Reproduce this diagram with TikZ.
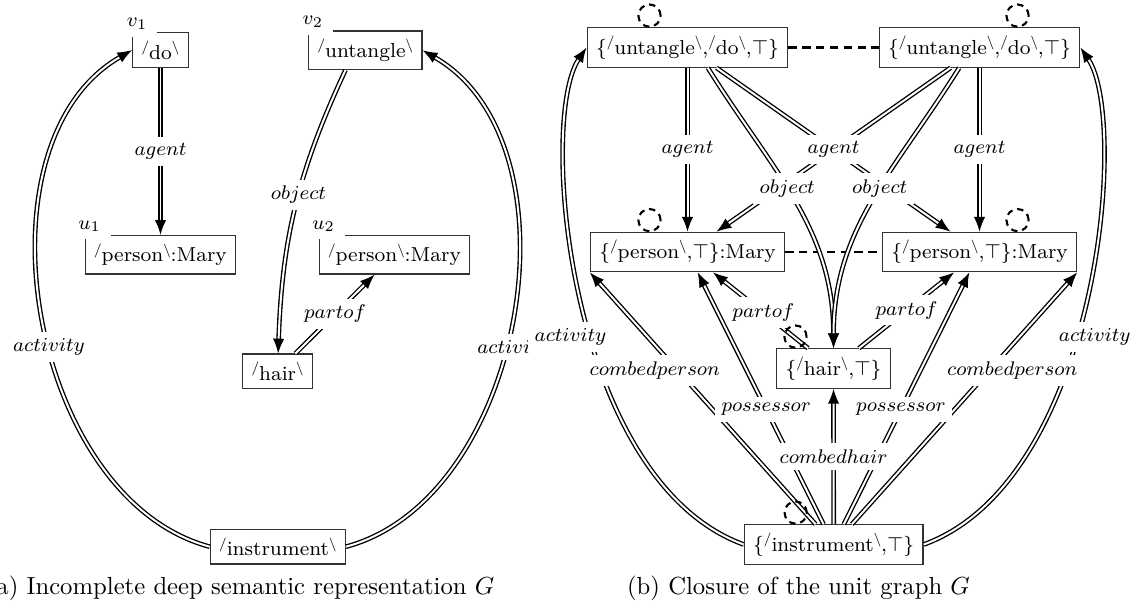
\documentclass[tikz,border=0pt]{standalone}
\usepackage{amsmath,amssymb}
\usepackage{tikz}
\usetikzlibrary{arrows.meta}
\newcommand{\gfont}{\fontsize{8.2}{9.8}\selectfont}
\newcommand{\lu}[1]{\raisebox{0.9ex}{\scalebox{0.7}{/}}#1\raisebox{0.9ex}{\scalebox{0.7}{$\backslash$}}}

\begin{document}
\begin{tikzpicture}[x=0.405pt,y=-0.405pt,
    unit/.style={draw=black!80,line width=0.5pt,fill=white,
                 inner xsep=3.6pt,inner ysep=3.2pt,font=\gfont},
    vname/.style={fill=white,inner xsep=4pt,inner ysep=3pt,font=\gfont,
                  anchor=center,xshift=2pt,yshift=3.5pt},
    rel/.style={double,line width=0.55pt,double distance=0.8pt,
                -{Latex[length=6pt,width=4.6pt]}},
    lbl/.style={fill=white,inner sep=2.6pt,font=\gfont},
    eqv/.style={line width=0.9pt,dash pattern=on 3.4pt off 2.2pt},
    selfloop/.style={line width=0.85pt,dash pattern=on 2.6pt off 2pt}]
  \useasboundingbox (0,0) rectangle (1137,610);
  % (a)
  \node[unit,label={[vname]north west:$v_1$}](v1) at (160.5,50){\lu{do}};
  \node[unit,label={[vname]north west:$v_2$}](v2) at (365.3,50.3){\lu{untangle}};
  \node[unit,label={[vname]north west:$u_1$}](u1) at (160.5,254.7){\lu{person}:Mary};
  \node[unit,label={[vname]north west:$u_2$}](u2) at (394.5,254.7){\lu{person}:Mary};
  \node[unit](hair) at (277.5,371.3){\lu{hair}};
  \node[unit](instr) at (277.8,546.7){\lu{instrument}};
  \draw[rel](v1)--node[lbl]{$agent$}(u1);
  \draw[rel](v2.-135) to[out=-115,in=88] node[lbl,pos=0.45]{$object$}(hair);
  \draw[rel](hair)--node[lbl]{$partof$}(u2);
  \draw[rel](instr.west) to[out=165,in=-150,looseness=0.95]
    node[lbl,pos=0.45]{$activity$}(v1.west);
  \draw[rel](instr.east) to[out=15,in=-30,looseness=0.95]
    node[lbl,pos=0.45,anchor=west,inner xsep=1pt,xshift=-13pt]{$activi$}(v2.east);
  \node[anchor=base east](capa) at (503,594){a) Incomplete deep semantic representation $G$};
  % (b)
  \node[unit](T1) at (687.5,47.5){\{\lu{untangle},\lu{do},$\top$\}};
  \node[unit](T2) at (979.5,47.5){\{\lu{untangle},\lu{do},$\top$\}};
  \node[unit](P1) at (687.5,252){\{\lu{person},$\top$\}:Mary};
  \node[unit](P2) at (979.5,252){\{\lu{person},$\top$\}:Mary};
  \node[unit](H) at (833.5,368.5){\{\lu{hair},$\top$\}};
  \node[unit](I) at (833.7,544.5){\{\lu{instrument},$\top$\}};
  \draw[eqv](T1)--(T2);
  \draw[eqv](P1)--(P2);
  \draw[rel](T2)--(P1);
  \draw[rel](T1)--node[lbl]{$agent$}(P2);
  \draw[rel](T1)--node[lbl]{$agent$}(P1);
  \draw[rel](T2)--node[lbl]{$agent$}(P2);
  \draw[rel](T1.-45) to[out=-58,in=90] node[lbl,pos=0.45]{$object$}(H);
  \draw[rel](T2.-135) to[out=-122,in=90] node[lbl,pos=0.45]{$object$}(H);
  \draw[rel](H)--node[lbl,pos=0.47]{$partof$}(P1);
  \draw[rel](H)--node[lbl]{$partof$}(P2);
  \draw[rel](I.west) to[out=160,in=-124,out distance=76pt,in distance=35pt]
    node[lbl,pos=0.44,xshift=-8.1pt]{$activity$}(T1.west);
  \draw[rel](I.east) to[out=20,in=-56,out distance=76pt,in distance=35pt]
    node[lbl,pos=0.44,xshift=7.3pt]{$activity$}(T2.east);
  \draw[rel](I)--node[lbl,pos=0.61,xshift=-9.3pt]{$combedperson$}(P1.south west);
  \draw[rel](I)--node[lbl,pos=0.61,xshift=9.3pt]{$combedperson$}(P2.south east);
  \draw[rel](I)--node[lbl,pos=0.455]{$possessor$}(P1);
  \draw[rel](I)--node[lbl,pos=0.455]{$possessor$}(P2);
  \draw[rel](I)--node[lbl]{$combedhair$}(H);
  \draw[selfloop]([xshift=-15.4pt,yshift=4.7pt]T1.north) circle[radius=4.5pt];
  \draw[selfloop]([xshift=15.4pt,yshift=4.7pt]T2.north) circle[radius=4.5pt];
  \draw[selfloop]([xshift=-15.4pt,yshift=4.7pt]P1.north) circle[radius=4.5pt];
  \draw[selfloop]([xshift=15.4pt,yshift=4.7pt]P2.north) circle[radius=4.5pt];
  \draw[selfloop]([xshift=-15.4pt,yshift=4.7pt]H.north) circle[radius=4.5pt];
  \draw[selfloop]([xshift=-15.4pt,yshift=4.7pt]I.north) circle[radius=4.5pt];
  \node[anchor=base](capb) at (798.5,594){(b) Closure of the unit graph $G$};
\end{tikzpicture}
\end{document}
